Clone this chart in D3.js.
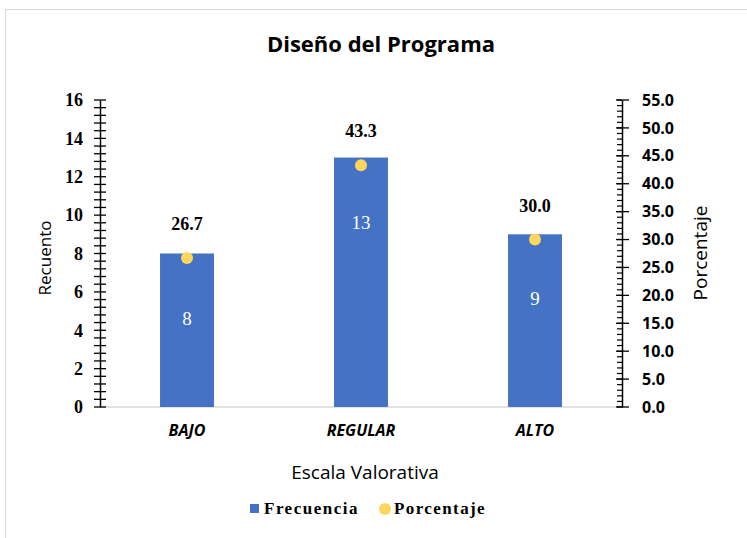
<!DOCTYPE html>
<html>
<head>
<meta charset="utf-8">
<script src="https://cdn.jsdelivr.net/npm/d3@7"></script>
<style>
  body { margin: 0; background: #fff; }
  svg { display: block; }
</style>
</head>
<body>
<div id="chart"></div>
<script>
// data
const categories = ["BAJO", "REGULAR", "ALTO"]
const frecuencia = [8, 13, 9]
const porcentaje = [26.7, 43.3, 30.0]
const leftTicks = [0, 2, 4, 6, 8, 10, 12, 14, 16]
const rightTicks = [0, 5, 10, 15, 20, 25, 30, 35, 40, 45, 50, 55]

const width = 747
const height = 538
const margin = ({top: 100, right: 125, bottom: 131, left: 100})

const blue = "#4472C4"
const gold = "#FFD65C"
const serif = "'Liberation Serif', 'Times New Roman', serif"
const sans = "'Open Sans', 'Noto Sans', sans-serif"

const svg = d3.select("#chart")
    .append("svg")
    .attr("width", width)
    .attr("height", height)

// chart frame (runs off the right and bottom edge)
svg.append("rect")
    .attr("x", 5.5).attr("y", 9.5)
    .attr("width", width + 20).attr("height", height + 20)
    .attr("fill", "none")
    .attr("stroke", "#d9d9d9")

// scales
const x = d3.scaleBand()
    .domain(categories)
    .range([margin.left, width - margin.right])
    .padding(0)

const y = d3.scaleLinear()
    .domain([0, 16])
    .range([height - margin.bottom, margin.top])

const y2 = d3.scaleLinear()
    .domain([0, 55])
    .range([height - margin.bottom, margin.top])

const barW = x.bandwidth() * 0.31

// title
svg.append("text")
    .attr("x", 381).attr("y", 52)
    .attr("text-anchor", "middle")
    .style("font-family", sans)
    .style("font-weight", 700)
    .style("font-size", "22px")
    .text("Diseño del Programa")

// x baseline
svg.append("line")
    .attr("x1", margin.left).attr("x2", width - margin.right)
    .attr("y1", y(0)).attr("y2", y(0))
    .attr("stroke", "#d9d9d9")
    .attr("stroke-width", 1.5)

// bars
svg.append("g")
    .selectAll("rect")
    .data(frecuencia)
    .join("rect")
    .attr("x", (d, i) => x(categories[i]) + x.bandwidth() / 2 - barW / 2)
    .attr("y", d => y(d))
    .attr("width", barW)
    .attr("height", d => y(0) - y(d))
    .attr("fill", blue)

// counts inside the bars
svg.append("g")
    .selectAll("text")
    .data(frecuencia)
    .join("text")
    .attr("x", (d, i) => x(categories[i]) + x.bandwidth() / 2)
    .attr("y", d => y(d) + 71)
    .attr("text-anchor", "middle")
    .attr("fill", "#fff")
    .style("font-family", serif)
    .style("font-size", "19px")
    .text(d => d)

// percentage points
svg.append("g")
    .selectAll("circle")
    .data(porcentaje)
    .join("circle")
    .attr("cx", (d, i) => x(categories[i]) + x.bandwidth() / 2)
    .attr("cy", d => y2(d))
    .attr("r", 6)
    .attr("fill", gold)

// percentage labels above the points
svg.append("g")
    .selectAll("text")
    .data(porcentaje)
    .join("text")
    .attr("x", (d, i) => x(categories[i]) + x.bandwidth() / 2)
    .attr("y", d => y2(d) - 28)
    .attr("text-anchor", "middle")
    .style("font-family", serif)
    .style("font-weight", "bold")
    .style("font-size", "18px")
    .text(d => d.toFixed(1))

// left axis
const leftAxis = svg.append("g")
    .attr("transform", `translate(${margin.left},0)`)

// minor ticks every 0.4, crossing the axis
leftAxis.selectAll(".minor")
    .data(d3.range(0, 16.001, 0.4))
    .join("line")
    .attr("x1", -6).attr("x2", 6)
    .attr("y1", d => y(d)).attr("y2", d => y(d))
    .attr("stroke", "#000")
    .attr("stroke-width", 1.3)

leftAxis.call(d3.axisLeft(y).tickValues(leftTicks).tickSize(0).tickPadding(17))
leftAxis.select(".domain").attr("stroke", "#000").attr("stroke-width", 1.5)
leftAxis.selectAll(".tick text")
    .style("font-family", serif)
    .style("font-weight", "bold")
    .style("font-size", "18px")
    .attr("fill", "#000")

// right axis
const rightAxis = svg.append("g")
    .attr("transform", `translate(${width - margin.right},0)`)

rightAxis.selectAll(".minor")
    .data(d3.range(0, 55.001, 1))
    .join("line")
    .attr("x1", -5).attr("x2", 0)
    .attr("y1", d => y2(d)).attr("y2", d => y2(d))
    .attr("stroke", "#000")
    .attr("stroke-width", 1.2)

rightAxis.selectAll(".major")
    .data(rightTicks)
    .join("line")
    .attr("x1", -6).attr("x2", 7)
    .attr("y1", d => y2(d)).attr("y2", d => y2(d))
    .attr("stroke", "#000")
    .attr("stroke-width", 1.3)

rightAxis.call(d3.axisRight(y2).tickValues(rightTicks).tickSize(0).tickPadding(20)
    .tickFormat(d3.format(".1f")))
rightAxis.select(".domain").attr("stroke", "#000").attr("stroke-width", 1.5)
rightAxis.selectAll(".tick text")
    .style("font-family", sans)
    .style("font-weight", "bold")
    .style("font-size", "16px")
    .attr("fill", "#000")

// category labels
svg.append("g")
    .selectAll("text")
    .data(categories)
    .join("text")
    .attr("x", d => x(d) + x.bandwidth() / 2)
    .attr("y", 436)
    .attr("text-anchor", "middle")
    .style("font-family", sans)
    .style("font-weight", "bold")
    .style("font-style", "italic")
    .style("font-size", "16px")
    .text(d => d)

// axis titles
svg.append("text")
    .attr("x", (margin.left + width - margin.right) / 2 + 4).attr("y", 479)
    .attr("text-anchor", "middle")
    .style("font-family", sans)
    .style("font-size", "19px")
    .text("Escala Valorativa")

svg.append("text")
    .attr("transform", "translate(51,258) rotate(-90)")
    .attr("text-anchor", "middle")
    .style("font-family", sans)
    .style("font-size", "17px")
    .text("Recuento")

svg.append("text")
    .attr("transform", "translate(707,253) rotate(-90)")
    .attr("text-anchor", "middle")
    .style("font-family", sans)
    .style("font-size", "19px")
    .text("Porcentaje")

// legend
const legend = svg.append("g")
legend.append("rect")
    .attr("x", 250).attr("y", 504)
    .attr("width", 9).attr("height", 9)
    .attr("fill", blue)
legend.append("text")
    .attr("x", 264).attr("y", 514)
    .style("font-family", serif)
    .style("font-weight", "bold")
    .style("font-size", "17px")
    .style("letter-spacing", "1.5px")
    .text("Frecuencia")
legend.append("circle")
    .attr("cx", 385).attr("cy", 509)
    .attr("r", 6)
    .attr("fill", gold)
legend.append("text")
    .attr("x", 394).attr("y", 514)
    .style("font-family", serif)
    .style("font-weight", "bold")
    .style("font-size", "17px")
    .style("letter-spacing", "1.4px")
    .text("Porcentaje")
</script>
</body>
</html>
